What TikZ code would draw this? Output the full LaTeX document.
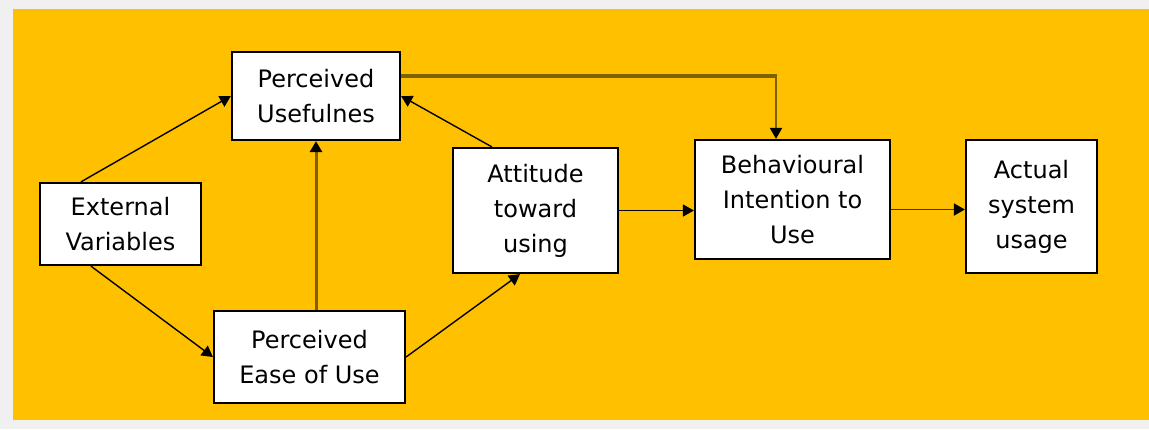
\documentclass[tikz,border=0pt]{standalone}
\usepackage{fontspec}
\setmainfont{DejaVu Sans}
\usetikzlibrary{arrows.meta}
\definecolor{tamgold}{RGB}{255,192,0}
\definecolor{tambrown}{RGB}{127,96,0}
\definecolor{tamdark}{RGB}{70,55,0}
\definecolor{tamgrey}{RGB}{240,240,240}
\tikzset{
  tambox/.style={draw, fill=white, line width=1.1pt, align=center, inner sep=0pt,
    font=\fontsize{12}{17.5}\selectfont},
  link/.style={-{Triangle[length=5.5pt,width=6pt,color=black]}, line width=0.7pt},
  heavylink/.style={link, draw=tambrown, line width=1.5pt},
}
\begin{document}
\begin{tikzpicture}[x=0.5pt,y=-0.5pt]
% background
\fill[tamgrey] (0,0) rectangle (1149,429);
\fill[tamgold] (13,9) rectangle (1149,420);

% boxes
\node[tambox, minimum width=84pt, minimum height=44pt] (pu) at (316,96) {Perceived\\Usefulnes};
\node[tambox, minimum width=80.5pt, minimum height=41pt] (ev) at (120.5,224) {External\\Variables};
\node[tambox, minimum width=95.5pt, minimum height=46pt] (peou) at (309.5,357) {Perceived\\Ease of Use};
\node[tambox, minimum width=82.5pt, minimum height=62.5pt] (atu) at (535.5,210.5) {Attitude\\toward\\using};
\node[tambox, minimum width=97.5pt, minimum height=59.5pt] (bi) at (792.5,199.5) {Behavioural\\Intention to\\Use};
\node[tambox, minimum width=65.5pt, minimum height=66.5pt] (asu) at (1031.5,206.5) {Actual\\system\\usage};

% links
\draw[link] ([xshift=21pt]ev.north west) -- (pu.west);
\draw[link] ([xshift=26pt]ev.south west) -- (peou.west);
\draw[heavylink] (pu.south |- peou.north) -- (pu.south);
\draw[link] (peou.east) -- ([xshift=-7.75pt]atu.south);
\draw[link] ([xshift=20pt]atu.north west) -- (pu.east);
\draw[link] (atu.east) -- (atu.east -| bi.west);
\draw[link, draw=tamdark, line width=0.9pt] ([yshift=-5pt]bi.east) -- ([yshift=-5pt]bi.east -| asu.west);

% usefulness to intention
\path ([yshift=10pt]pu.east) coordinate (puout);
\path ([xshift=-8.25pt]bi.north) coordinate (bitop);
\coordinate (turn) at (puout -| bitop);
\draw[tambrown, line width=2pt] (puout) -- ([xshift=0.5pt]turn);
\draw[link, draw=tambrown, line width=1pt] (turn) -- (bitop);
\end{tikzpicture}
\end{document}
